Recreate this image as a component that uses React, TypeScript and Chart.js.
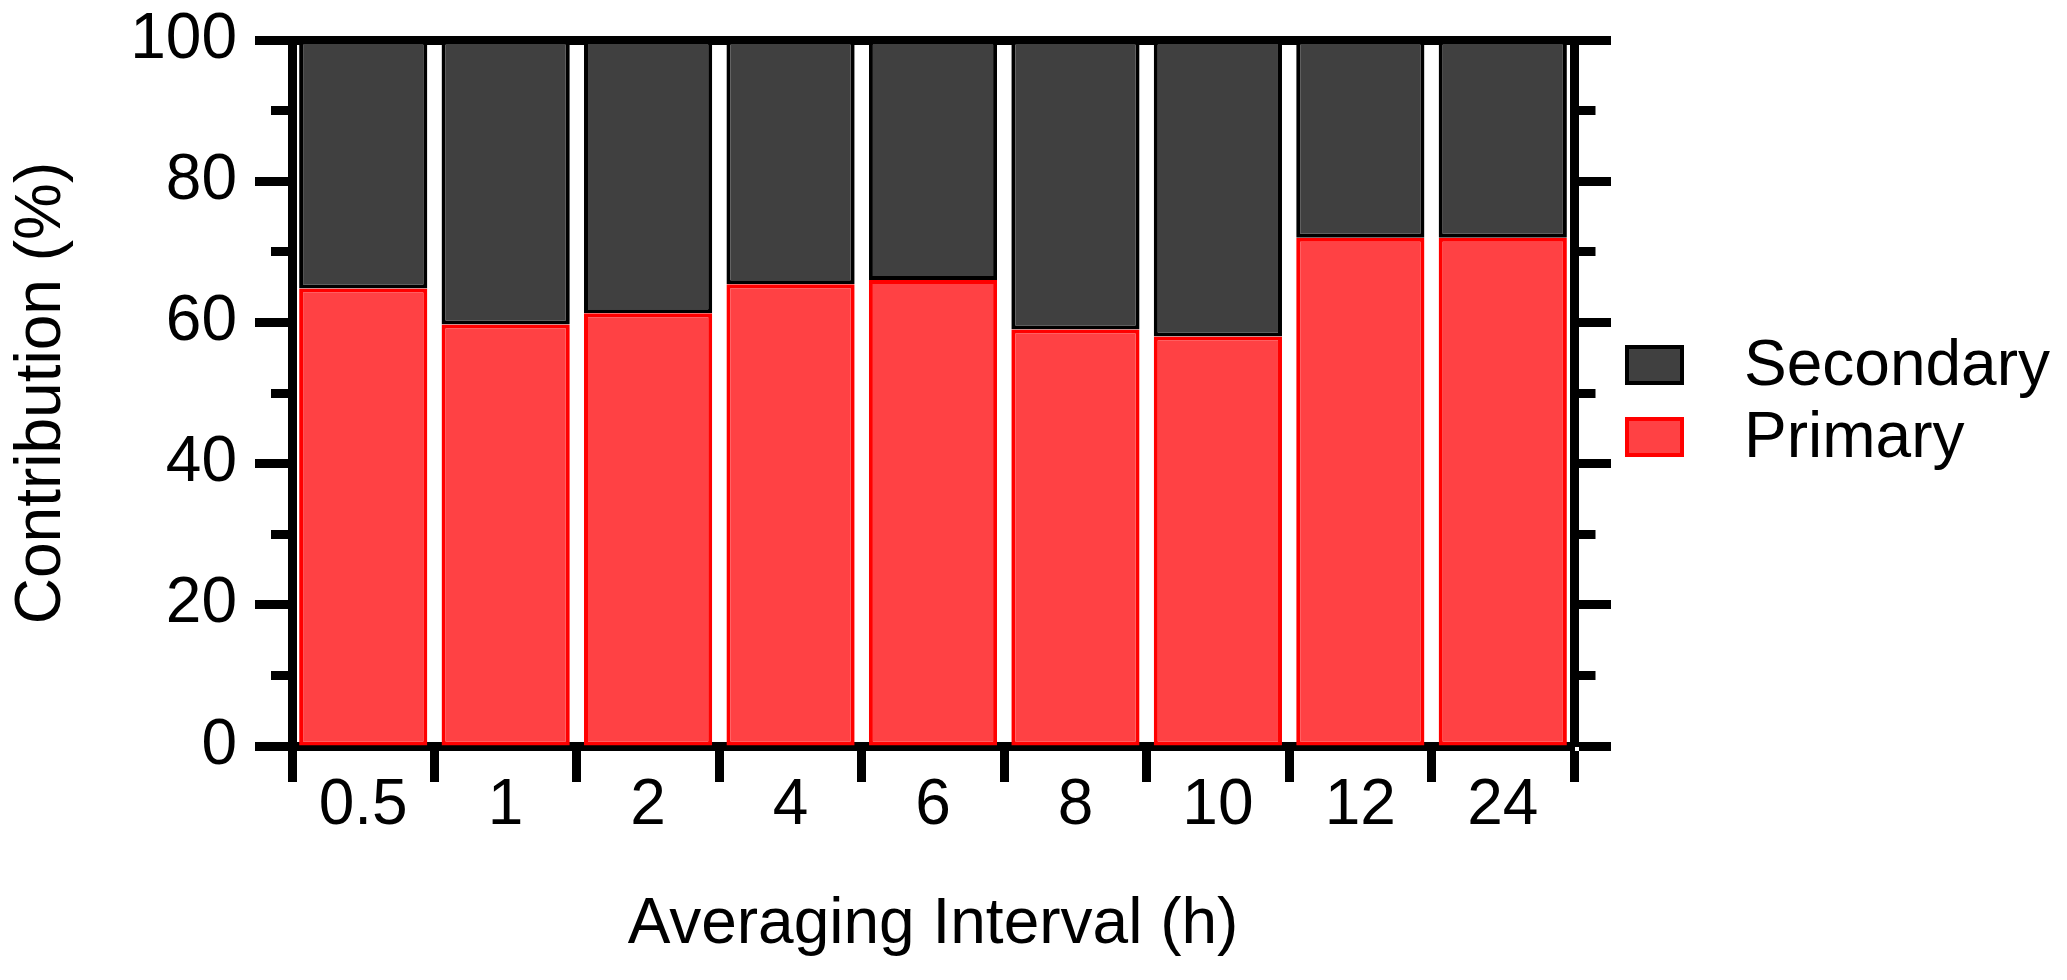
import React, { useEffect, useRef } from 'react';
import { Chart, registerables } from 'chart.js';

Chart.register(...registerables);

// ---- data ----
const categories = ['0.5', '1', '2', '4', '6', '8', '10', '12', '24'];
const primaryValues = [64.8, 59.7, 61.3, 65.4, 66.0, 59.0, 58.0, 72.0, 72.0];
const secondaryValues = [35.2, 40.3, 38.7, 34.6, 34.0, 41.0, 42.0, 28.0, 28.0];
const yMin = 0;
const yMax = 100;
const yMinorStep = 10;
const yLabelStep = 20;

const seriesNames = ['Primary', 'Secondary'];
const FONT = '"Liberation Sans", Arial, Helvetica, sans-serif';

const W = 2067;
const H = 980;

const isMinor = (ctx: any) => !!ctx.tick && ctx.tick.value % yLabelStep !== 0;

const sideLegend = {
  id: 'sideLegend',
  afterDraw(chart: any) {
    const { ctx, chartArea } = chart;
    const items = chart.data.datasets.slice().reverse();
    ctx.save();
    items.forEach((ds: any, i: number) => {
      const bx = chartArea.right + 51;
      const by = chartArea.top + 305 + i * 72;
      const bw = 59;
      const bh = 40;
      ctx.fillStyle = ds.backgroundColor;
      ctx.fillRect(bx, by, bw, bh);
      ctx.lineWidth = 4;
      ctx.strokeStyle = ds.borderColor;
      ctx.strokeRect(bx + 2, by + 2, bw - 4, bh - 4);
      ctx.font = `64px ${FONT}`;
      ctx.fillStyle = '#000';
      ctx.textAlign = 'left';
      ctx.textBaseline = 'alphabetic';
      ctx.fillText(ds.label, chartArea.right + 170, by + 40);
    });
    ctx.restore();
  },
};

export default function App() {
  const ref = useRef<HTMLCanvasElement | null>(null);

  useEffect(() => {
    if (!ref.current) return;
    const tickFont = { family: FONT, size: 64, lineHeight: 1 };
    const yTickFont = { family: FONT, size: 64, lineHeight: 0.5 };
    const titleFont = { family: FONT, size: 64, lineHeight: 1.2 };
    const chart = new Chart(ref.current, {
      type: 'bar',
      data: {
        labels: categories,
        datasets: [
          {
            label: seriesNames[0],
            data: primaryValues,
            backgroundColor: 'rgb(255, 65, 68)',
            borderColor: '#ff0000',
            borderWidth: 4,
            borderSkipped: false,
            barPercentage: 0.9,
            categoryPercentage: 1,
            xAxisID: 'x',
            yAxisID: 'y',
          },
          {
            label: seriesNames[1],
            data: secondaryValues,
            backgroundColor: '#404040',
            borderColor: '#000000',
            borderWidth: 4,
            borderSkipped: false,
            barPercentage: 0.9,
            categoryPercentage: 1,
            xAxisID: 'x',
            yAxisID: 'y',
          },
        ],
      },
      options: {
        responsive: false,
        animation: false,
        devicePixelRatio: 1,
        layout: { padding: 0 },
        plugins: {
          legend: { display: false },
          tooltip: { enabled: false },
        },
        scales: {
          x: {
            type: 'category',
            position: 'bottom',
            stacked: true,
            offset: true,
            grid: {
              display: true,
              offset: true,
              drawOnChartArea: false,
              drawTicks: true,
              tickLength: 36,
              tickWidth: 9,
              tickColor: '#000',
            },
            border: { display: true, width: 9, color: '#000' },
            ticks: {
              font: tickFont,
              color: '#000',
              padding: -8,
              maxRotation: 0,
              autoSkip: false,
            },
            title: {
              display: true,
              text: 'Averaging Interval (h)',
              font: titleFont,
              color: '#000',
              padding: { top: 0, bottom: 16 },
            },
            afterFit: (s: any) => {
              s.height = 234;
            },
          },
          x2: {
            type: 'category',
            position: 'top',
            offset: true,
            grid: { display: true, drawOnChartArea: false, drawTicks: false },
            border: { display: true, width: 9, color: '#000' },
            ticks: { display: false },
            afterFit: (s: any) => {
              s.height = 40;
            },
          },
          y: {
            type: 'linear',
            position: 'left',
            stacked: true,
            min: yMin,
            max: yMax,
            ticks: {
              stepSize: yMinorStep,
              autoSkip: false,
              font: yTickFont,
              color: '#000',
              padding: 18,
              callback: (v: any) => (Number(v) % yLabelStep === 0 ? String(v) : ''),
            },
            grid: {
              display: true,
              drawOnChartArea: false,
              drawTicks: true,
              tickLength: 37,
              tickWidth: 9,
              tickColor: '#000',
              tickBorderDash: (ctx: any) => (isMinor(ctx) ? [20, 16] : []),
              tickBorderDashOffset: (ctx: any) => (isMinor(ctx) ? 20 : 0),
            },
            border: { display: true, width: 9, color: '#000' },
            title: {
              display: true,
              text: 'Contribution (%)',
              font: titleFont,
              color: '#000',
              padding: { top: 4, bottom: 0 },
            },
            afterFit: (s: any) => {
              s.width = 292;
            },
          },
          y2: {
            type: 'linear',
            position: 'right',
            min: yMin,
            max: yMax,
            ticks: { display: false, stepSize: yMinorStep, autoSkip: false },
            grid: {
              display: true,
              drawOnChartArea: false,
              drawTicks: true,
              tickLength: 37,
              tickWidth: 9,
              tickColor: '#000',
              tickBorderDash: (ctx: any) => (isMinor(ctx) ? [16.5, 100] : []),
              tickBorderDashOffset: 0,
            },
            border: { display: true, width: 9, color: '#000' },
            afterFit: (s: any) => {
              s.width = 493;
            },
          },
        },
      } as any,
      plugins: [sideLegend],
    });
    return () => chart.destroy();
  }, []);

  return (
    <div style={{ position: 'fixed', left: 0, top: 0, width: W, height: H, background: '#fff' }}>
      <canvas ref={ref} width={W} height={H} style={{ display: 'block', width: W, height: H }} />
    </div>
  );
}
